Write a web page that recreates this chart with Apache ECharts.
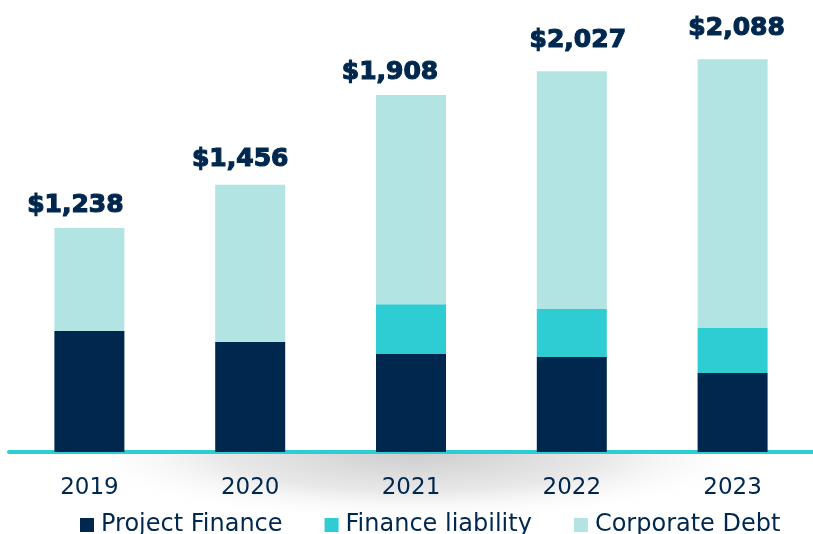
<!DOCTYPE html>
<html>
<head>
<meta charset="utf-8">
<script src="https://cdn.jsdelivr.net/npm/echarts@6/dist/echarts.min.js"></script>
<style>
  html, body { margin: 0; padding: 0; background: #fff; }
  #chart { width: 813px; height: 534px; }
</style>
</head>
<body>
<div id="chart"></div>
<script>
// values
const years = ['2019', '2020', '2021', '2022', '2023']
const projectFinance = [720, 664, 604, 589, 508]
const financeLiability = [0, 0, 251, 241, 227]
const corporateDebt = [518, 792, 1053, 1197, 1353]
const totals = [1238, 1456, 1908, 2027, 2088]

// small nudges so the total labels sit where they are in the reference
const labelOffsets = [[-14, 0], [-10, -3], [-21, 0], [6, -8], [4, -8]]

const navy = '#00284f'
const teal = '#2ecdd3'
const light = '#b2e4e3'

const chart = echarts.init(document.getElementById('chart'))

const cdData = corporateDebt.map((v, i) => ({
  value: v,
  label: { offset: labelOffsets[i] }
}))

chart.setOption({
  animation: false,
  textStyle: { fontFamily: 'DejaVu Sans' },
  grid: { left: 9, width: 811, top: 17, bottom: 82 },
  graphic: [
    {
      // soft shadow under the axis
      type: 'circle',
      z: -10,
      shape: { cx: 415, cy: 0, r: 350 },
      y: 453,
      scaleY: 0.2,
      originY: 0,
      style: {
        fill: {
          type: 'radial', x: 0.5, y: 0.5, r: 0.5,
          colorStops: [
            { offset: 0, color: 'rgba(205,205,205,1)' },
            { offset: 0.55, color: 'rgba(230,230,230,0.9)' },
            { offset: 1, color: 'rgba(255,255,255,0)' }
          ]
        }
      }
    },
    {
      type: 'rect',
      z: -5,
      shape: { x: 0, y: 0, width: 813, height: 452 },
      style: { fill: '#fff' }
    }
  ],
  legend: {
    top: 513,
    left: 80,
    padding: 0,
    icon: 'rect',
    itemWidth: 14,
    itemHeight: 14,
    itemGap: 42,
    textStyle: { fontSize: 24, color: navy, fontFamily: 'DejaVu Sans', padding: [0, 0, 0, 2] },
    data: ['Project Finance', 'Finance liability', 'Corporate Debt']
  },
  xAxis: {
    type: 'category',
    data: years,
    axisLine: { lineStyle: { color: teal, width: 4 } },
    axisTick: { show: false },
    axisLabel: { color: navy, fontSize: 23, margin: 25, fontFamily: 'DejaVu Sans' }
  },
  yAxis: {
    type: 'value',
    min: 111,
    max: 2300,
    show: false,
    splitLine: { show: false }
  },
  series: [
    {
      name: 'Project Finance',
      type: 'bar',
      stack: 'debt',
      barWidth: 70,
      itemStyle: { color: navy },
      data: projectFinance
    },
    {
      name: 'Finance liability',
      type: 'bar',
      stack: 'debt',
      barWidth: 70,
      itemStyle: { color: teal },
      data: financeLiability
    },
    {
      name: 'Corporate Debt',
      type: 'bar',
      stack: 'debt',
      barWidth: 70,
      itemStyle: { color: light },
      label: {
        show: true,
        position: 'top',
        distance: 10,
        fontFamily: 'DejaVu Sans',
        fontWeight: 'bold',
        fontSize: 25,
        lineHeight: 25,
        color: navy,
        textBorderColor: navy,
        textBorderWidth: 1.2,
        formatter: p => '$' + totals[p.dataIndex].toLocaleString('en-US')
      },
      data: cdData
    }
  ]
})
</script>
</body>
</html>
